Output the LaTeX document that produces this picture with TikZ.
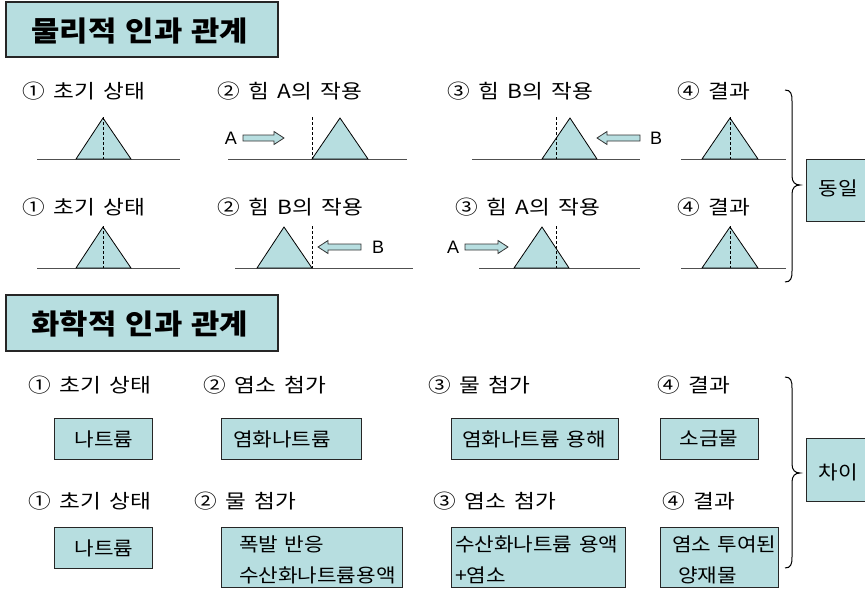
\documentclass[tikz,border=0pt]{standalone}
\usepackage{fontspec}
\setmainfont{Noto Sans CJK KR}
\newfontfamily\krt{Noto Sans CJK KR}[WordSpace=1.3, FakeStretch=1.1]
\newfontfamily\krl{Noto Sans CJK KR}[WordSpace=1.7, FakeStretch=1.16]
\newfontfamily\krb{Noto Sans CJK KR}[WordSpace=1.4, FakeStretch=1.12]
\newfontfamily\lat{Liberation Sans}
\definecolor{boxfill}{RGB}{183,222,224}
\definecolor{lineg}{RGB}{80,80,80}
\newcommand\myRarrow[3]{\filldraw[blockarr] (#1,{#3-3}) -- ({#2-10},{#3-3}) -- ({#2-10},{#3-6.5}) -- (#2,#3) -- ({#2-10},{#3+6.5}) -- ({#2-10},{#3+3}) -- (#1,{#3+3}) -- cycle;}
\newcommand\myLarrow[3]{\filldraw[blockarr] (#2,{#3-3}) -- ({#1+10},{#3-3}) -- ({#1+10},{#3-6.5}) -- (#1,#3) -- ({#1+10},{#3+6.5}) -- ({#1+10},{#3+3}) -- (#2,{#3+3}) -- cycle;}
\newcommand\myTri[5]{% left, right, apex x, dash x, base y
  \filldraw[tri] (#1,#5) -- (#3,{#5-41}) -- (#2,#5) -- cycle;
  \draw[dashline] (#4,{#5-42}) -- (#4,#5);}
\begin{document}
\begin{tikzpicture}[x=1pt,y=-1pt,
  every node/.style={inner sep=0pt, outer sep=0pt},
  titlebox/.style={draw=black!85, fill=boxfill, line width=1.2pt},
  sbox/.style={draw=black!85, fill=boxfill, line width=1pt},
  lbl/.style={anchor=base west, font=\krl\fontsize{19.5}{22}\selectfont},
  btxt/.style={font=\krb\fontsize{19}{22}\selectfont},
  ttl/.style={font=\krt\bfseries\fontsize{28}{32}\selectfont},
  ab/.style={font=\lat\fontsize{18}{18}\selectfont},
  tri/.style={draw=black, fill=boxfill, line width=0.8pt, line join=miter},
  ground/.style={draw=lineg, line width=1pt},
  dashline/.style={draw=black, line width=1pt, dash pattern=on 3pt off 2pt},
  blockarr/.style={draw=black!80, fill=boxfill, line width=0.8pt},
  bracel/.style={draw=black, line width=1pt}]
\useasboundingbox (0,0) rectangle (865,589);
\clip (0,0) rectangle (865,589);

% ---------- physical ----------
\draw[titlebox] (6,2) rectangle (278,57);
\node[ttl] (t1) at (140,31) {물리적 인과 관계};

\node[lbl] (p11) at (22,98) {① 초기 상태};
\node[lbl] (p12) at (217,98) {② 힘 A의 작용};
\node[lbl] (p13) at (447,98) {③ 힘 B의 작용};
\node[lbl] (p14) at (677,98) {④ 결과};

\draw[ground] (37,159) -- (180,159);
\myTri{76}{131}{103}{103}{159}
\draw[ground] (228,159) -- (407,159);
\myTri{312}{368}{340}{312}{159}
\node[ab] (a1) at (231,138) {A};
\myRarrow{243}{284}{138}
\draw[ground] (472,159) -- (640,159);
\myTri{542}{597}{570}{556}{159}
\myLarrow{597}{640}{138}
\node[ab] (b1) at (656,138) {B};
\draw[ground] (681,159) -- (786,159);
\myTri{702}{758}{730}{730}{159}

\node[lbl] (p21) at (22,214) {① 초기 상태};
\node[lbl] (p22) at (217,214) {② 힘 B의 작용};
\node[lbl] (p23) at (455,214) {③ 힘 A의 작용};
\node[lbl] (p24) at (677,214) {④ 결과};

\draw[ground] (37,268) -- (180,268);
\myTri{76}{131}{103}{103}{268}
\draw[ground] (235,268) -- (413,268);
\myTri{257}{312}{284}{312}{268}
\myLarrow{318}{361}{247}
\node[ab] (b2) at (378,247) {B};
\draw[ground] (479,268) -- (640,268);
\myTri{514}{569}{542}{556}{268}
\node[ab] (a2) at (453,247) {A};
\myRarrow{465}{508}{247}
\draw[ground] (681,268) -- (786,268);
\myTri{702}{758}{730}{730}{268}

\draw[bracel] (785,90) .. controls (791,90) and (792,94) .. (792,101) -- (792,176) .. controls (792,182) and (795,185) .. (800,185) .. controls (795,185) and (792,188) .. (792,194) -- (792,271) .. controls (792,278) and (791,282) .. (785,282);
\draw[sbox] (806,159) rectangle (866,221);
\node[btxt] (same) at (838,188) {동일};

% ---------- chemical ----------
\draw[titlebox] (6,295) rectangle (278,351);
\node[ttl] (t2) at (140,324) {화학적 인과 관계};

\node[lbl] (c11) at (28,392) {① 초기 상태};
\node[lbl] (c12) at (203,392) {② 염소 첨가};
\node[lbl] (c13) at (428,392) {③ 물 첨가};
\node[lbl] (c14) at (657,392) {④ 결과};

\draw[sbox] (54,418) rectangle (152,459);
\node[btxt] (n1) at (104,439) {나트륨};
\draw[sbox] (221,418) rectangle (361,459);
\node[btxt,anchor=west] (n2) at (233,439) {염화나트륨};
\draw[sbox] (451,418) rectangle (618,459);
\node[btxt,anchor=west] (n3) at (462,439) {염화나트륨 용해};
\draw[sbox] (660,418) rectangle (758,459);
\node[btxt] (n4) at (709,439) {소금물};

\node[lbl] (c21) at (28,508) {① 초기 상태};
\node[lbl] (c22) at (194,508) {② 물 첨가};
\node[lbl] (c23) at (433,508) {③ 염소 첨가};
\node[lbl] (c24) at (662,508) {④ 결과};

\draw[sbox] (54,527) rectangle (152,568);
\node[btxt] (m1) at (104,548) {나트륨};
\draw[sbox] (221,527) rectangle (402,587);
\node[btxt,anchor=west] (m2a) at (239,544) {폭발 반응};
\node[btxt,anchor=west] (m2b) at (239,575) {수산화나트륨용액};
\draw[sbox] (451,527) rectangle (625,587);
\node[btxt,anchor=west] (m3a) at (455,544) {수산화나트륨 용액};
\node[btxt,anchor=west] (m3b) at (455,575) {+염소};
\draw[sbox] (660,527) rectangle (778,587);
\node[btxt,anchor=west] (m4a) at (672,544) {염소 투여된};
\node[btxt,anchor=west] (m4b) at (678,575) {양재물};

\draw[bracel] (785,377) .. controls (791,377) and (792,381) .. (792,388) -- (792,464) .. controls (792,470) and (795,473) .. (800,473) .. controls (795,473) and (792,476) .. (792,482) -- (792,557) .. controls (792,564) and (791,568) .. (785,568);
\draw[sbox] (806,438) rectangle (866,501);
\node[btxt] (diff) at (838,472) {차이};
\end{tikzpicture}
\end{document}
